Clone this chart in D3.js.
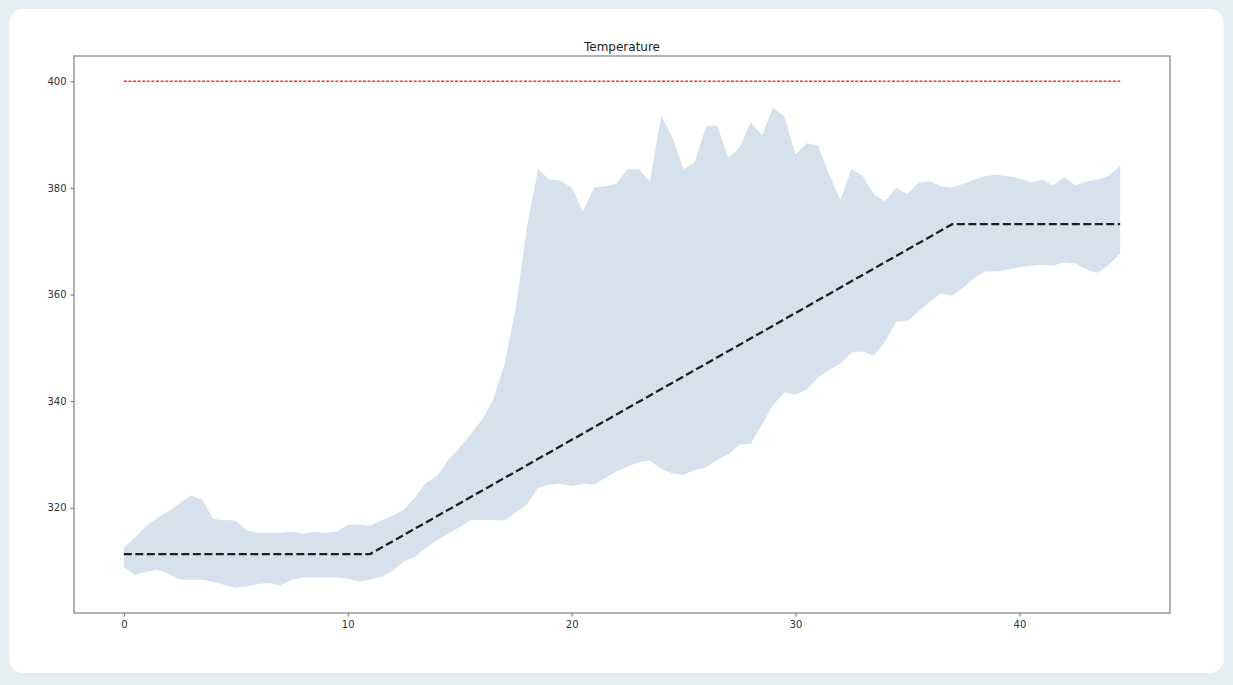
<!DOCTYPE html>
<html>
<head>
<meta charset="utf-8">
<script src="https://cdn.jsdelivr.net/npm/d3@7"></script>
<style>
  body { margin: 0; background: #e7eef1; }
  svg { display: block; }
</style>
</head>
<body>
<div class="canvas"></div>
<script>
// time steps (x), band edges and the dashed set-point profile
const steps = [0, 0.5, 1, 1.5, 2, 2.5, 3, 3.5, 4, 4.5, 5, 5.5, 6, 6.5, 7, 7.5, 8, 8.5, 9, 9.5,
  10, 10.5, 11, 11.5, 12, 12.5, 13, 13.5, 14, 14.5, 15, 15.5, 16, 16.5, 17, 17.5, 18, 18.5, 19, 19.5,
  20, 20.5, 21, 21.5, 22, 22.5, 23, 23.5, 24, 24.5, 25, 25.5, 26, 26.5, 27, 27.5, 28, 28.5, 29, 29.5,
  30, 30.5, 31, 31.5, 32, 32.5, 33, 33.5, 34, 34.5, 35, 35.5, 36, 36.5, 37, 37.5, 38, 38.5, 39, 39.5,
  40, 40.5, 41, 41.5, 42, 42.5, 43, 43.5, 44, 44.5]

const upper = [312.5, 314.4, 316.6, 318.1, 319.4, 320.9, 322.3, 321.5, 317.9, 317.7, 317.6, 315.7, 315.3, 315.3, 315.3, 315.5, 315.1, 315.5, 315.3, 315.5,
  316.8, 316.8, 316.6, 317.6, 318.5, 319.6, 321.9, 324.7, 326.0, 329.0, 331.3, 333.9, 336.5, 340.3, 346.9, 357.2, 372.6, 383.5, 381.6, 381.4,
  380.1, 375.6, 380.1, 380.3, 380.8, 383.5, 383.5, 381.2, 393.6, 389.5, 383.5, 384.8, 391.5, 391.7, 385.7, 387.6, 392.3, 389.9, 395.1, 393.4,
  386.3, 388.4, 388.0, 382.5, 377.8, 383.5, 382.3, 378.8, 377.5, 380.1, 378.8, 381.0, 381.2, 380.3, 380.1, 380.8, 381.6, 382.3, 382.5, 382.2,
  381.8, 381.0, 381.6, 380.5, 382.0, 380.5, 381.2, 381.6, 382.3, 384.2]

const lower = [308.9, 307.4, 308.0, 308.4, 307.6, 306.5, 306.5, 306.5, 306.1, 305.5, 305.0, 305.2, 305.7, 305.9, 305.4, 306.5, 306.9, 306.9, 306.9, 306.9,
  306.7, 306.1, 306.5, 307.0, 308.2, 309.9, 310.8, 312.5, 314.0, 315.1, 316.4, 317.7, 317.7, 317.7, 317.6, 319.1, 320.6, 323.8, 324.3, 324.5,
  324.1, 324.5, 324.3, 325.6, 326.8, 327.7, 328.6, 328.8, 327.3, 326.4, 326.2, 327.1, 327.5, 329.0, 330.0, 331.8, 332.0, 335.6, 339.3, 341.6,
  341.2, 342.2, 344.4, 345.9, 347.0, 349.1, 349.3, 348.5, 351.2, 354.9, 355.1, 356.8, 358.7, 360.2, 359.8, 361.3, 363.2, 364.3, 364.3, 364.7,
  365.1, 365.4, 365.6, 365.4, 366.0, 365.8, 364.7, 364.1, 365.6, 367.7]

const setX = [0, 11, 37, 44.5]
const setY = [311.3, 311.3, 373.2, 373.2]

const limitX = [0, 44.5]
const limitY = [400, 400]

const xTicks = [0, 10, 20, 30, 40]
const yTicks = [320, 340, 360, 380, 400]

const W = 1233, H = 685
const svg = d3.select('.canvas').append('svg').attr('width', W).attr('height', H)

// card
svg.append('rect')
    .attr('x', 9.5).attr('y', 9)
    .attr('width', 1214).attr('height', 664)
    .attr('rx', 13).attr('fill', '#ffffff')

const margin = {top: 56, right: 63, bottom: 72, left: 74}
const graphWidth = W - margin.left - margin.right
const graphHeight = H - margin.top - margin.bottom

// matplotlib-like 5% padding on the data extent
const xMin = d3.min(steps), xMax = d3.max(steps)
const yMin = d3.min(lower), yMax = d3.max(limitY)
const xPad = (xMax - xMin) * 0.05, yPad = (yMax - yMin) * 0.05

const x = d3.scaleLinear().domain([xMin - xPad, xMax + xPad]).range([0, graphWidth])
const y = d3.scaleLinear().domain([yMin - yPad, yMax + yPad]).range([graphHeight, 0])

const graph = svg.append('g')
    .attr('transform', `translate(${margin.left}, ${margin.top})`)

// band
const band = steps.map((s, i) => ({s, lo: lower[i], hi: upper[i]}))
const area = d3.area()
    .x(d => x(d.s))
    .y0(d => y(d.lo))
    .y1(d => y(d.hi))

graph.append('path')
    .datum(band)
    .attr('d', area)
    .attr('fill', '#d5e2ee')

// set-point profile
const line = d3.line().x(d => x(d[0])).y(d => y(d[1]))

graph.append('path')
    .datum(setX.map((v, i) => [v, setY[i]]))
    .attr('d', line)
    .attr('fill', 'none')
    .attr('stroke', '#1e1e1e')
    .attr('stroke-width', 2.3)
    .attr('stroke-dasharray', '8,3.5')

// limit line
graph.append('path')
    .datum(limitX.map((v, i) => [v, limitY[i]]))
    .attr('d', line)
    .attr('fill', 'none')
    .attr('stroke', '#ff3030')
    .attr('stroke-width', 1.5)
    .attr('stroke-dasharray', '3,1.6')

// axes
const xAxis = d3.axisBottom(x).tickValues(xTicks).tickSize(3.5).tickPadding(4)
const yAxis = d3.axisLeft(y).tickValues(yTicks).tickSize(3.5).tickPadding(4)

const xAxisGraph = graph.append('g').attr('transform', `translate(0, ${graphHeight})`).call(xAxis)
const yAxisGraph = graph.append('g').call(yAxis)

;[xAxisGraph, yAxisGraph].forEach(g => {
    g.select('.domain').remove()
    g.selectAll('line').attr('stroke', '#666')
    g.selectAll('text')
        .attr('fill', '#333')
        .style('font-family', 'DejaVu Sans, sans-serif')
        .style('font-size', '10px')
})

// frame
graph.append('rect')
    .attr('width', graphWidth).attr('height', graphHeight)
    .attr('fill', 'none')
    .attr('stroke', '#8a8a8a')
    .attr('stroke-width', 1.3)

// title
graph.append('text')
    .attr('x', graphWidth / 2)
    .attr('y', -5)
    .attr('text-anchor', 'middle')
    .attr('fill', '#222')
    .style('font-family', 'DejaVu Sans, sans-serif')
    .style('font-size', '12px')
    .text('Temperature')
</script>
</body>
</html>
